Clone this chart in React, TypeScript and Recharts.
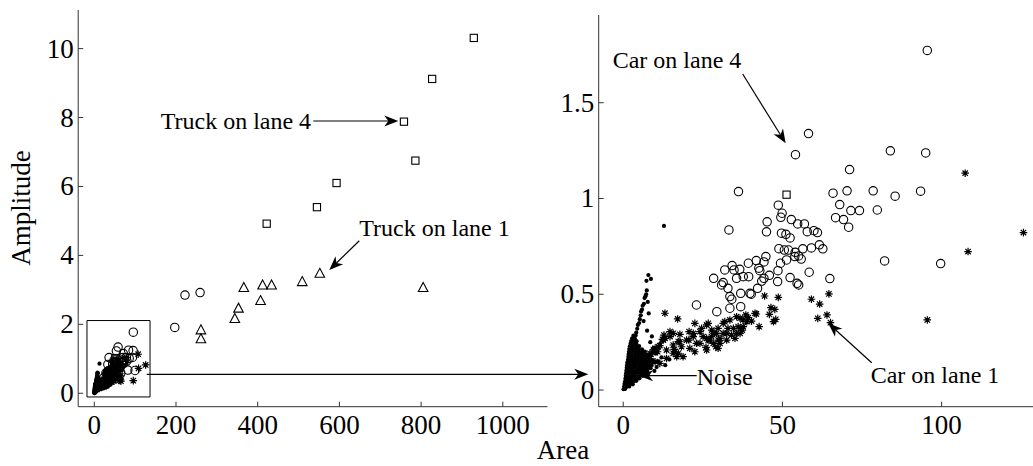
import { ScatterChart, Scatter, XAxis, YAxis, ReferenceArea } from "recharts";

const FONT = '"Liberation Serif", "Times New Roman", Times, serif';
const INK = "#000";
const AXIS = "#333";

type Pt = [number, number];

// Truck on lane 4 (squares)
const truckLane4: Pt[] = [
  [929, 10.31], [827, 9.12], [758, 7.88], [786, 6.75], [593, 6.1], [545, 5.4], [422, 4.92], [51.3, 1.02],
];

// Truck on lane 1 (triangles)
const truckLane1: Pt[] = [
  [552, 3.48], [509, 3.24], [434, 3.14], [412, 3.14], [366, 3.07], [407, 2.69], [353, 2.47],
  [344, 2.17], [261, 1.84], [261, 1.58], [805, 3.07],
];

// Car on lane 4 (circles)
const carLane4: Pt[] = [
  [222, 2.85], [259, 2.92], [197, 1.91],
  [95.5, 1.773], [58.2, 1.339], [54.1, 1.229], [83.9, 1.249], [95.0, 1.238], [71.1, 1.151], [36.2, 1.036],
  [65.9, 1.028], [70.3, 1.04], [78.5, 1.04], [85.4, 1.012], [93.4, 1.038], [68.0, 0.968], [71.5, 0.937],
  [74.2, 0.937], [79.8, 0.94], [66.7, 0.9], [69.2, 0.89], [70.8, 0.85], [82.1, 0.674], [99.7, 0.66],
  [33.2, 0.836], [48.7, 0.965], [49.9, 0.923], [49.5, 0.902], [52.8, 0.89], [45.2, 0.878], [45.0, 0.826],
  [54.8, 0.867], [56.9, 0.867], [57.8, 0.827], [59.9, 0.832], [61.0, 0.822], [49.7, 0.819], [51.1, 0.813],
  [52.4, 0.794], [61.6, 0.758], [62.7, 0.737], [59.1, 0.742], [56.4, 0.737], [48.9, 0.738], [50.6, 0.731],
  [51.9, 0.731], [54.0, 0.719], [55.1, 0.7], [55.9, 0.684], [53.9, 0.697], [58.4, 0.615], [52.4, 0.587],
  [55.1, 0.549], [54.6, 0.557], [64.9, 0.582], [51.3, 0.679], [49.4, 0.662], [48.6, 0.623], [48.5, 0.566],
  [44.8, 0.697], [44.2, 0.669], [41.8, 0.676], [39.3, 0.662], [42.6, 0.636], [42.9, 0.623], [45.9, 0.599],
  [44.2, 0.583], [43.5, 0.569], [39.4, 0.592], [42.2, 0.531], [40.2, 0.5], [39.8, 0.505], [34.2, 0.65],
  [31.9, 0.627], [34.8, 0.627], [36.6, 0.63], [37.7, 0.592], [28.4, 0.583], [31.4, 0.561], [30.9, 0.549],
  [32.9, 0.531], [35.6, 0.583], [33.5, 0.488], [34.1, 0.474], [36.9, 0.505], [23.0, 0.444], [29.4, 0.409],
  [33.5, 0.427], [36.9, 0.435],
];

// Car on lane 1 (asterisks)
const carLane1: Pt[] = [
  [107.4, 1.132], [125.7, 0.822], [108.3, 0.723], [95.5, 0.366], [64.6, 0.502], [59.1, 0.474], [61.7, 0.449],
  [61.1, 0.374], [64.0, 0.392], [65.1, 0.352], [48.7, 0.484], [44.4, 0.491], [46.4, 0.43], [47.6, 0.421],
  [45.9, 0.395], [47.9, 0.369], [47.2, 0.357], [42.7, 0.331], [41.8, 0.397], [39.3, 0.378], [37.6, 0.366],
  [35.6, 0.383], [36.9, 0.322], [35.6, 0.296], [37.4, 0.313], [33.5, 0.366], [31.4, 0.348], [29.8, 0.322],
  [29.3, 0.296], [27.7, 0.279], [26.2, 0.34], [25.1, 0.279], [22.5, 0.348], [22.0, 0.296], [20.7, 0.305],
  [20.6, 0.261], [17.8, 0.291], [17.3, 0.253], [16.0, 0.212], [15.7, 0.192], [13.1, 0.401], [17.1, 0.371],
  [12.8, 0.287], [12.3, 0.265], [11.5, 0.232], [10.8, 0.2], [9.5, 0.209], [29.1, 0.226], [26.0, 0.223],
  [24.1, 0.244], [20.9, 0.218], [30.4, 0.244], [32.5, 0.296], [32.9, 0.322], [34.6, 0.322], [34.0, 0.287],
  [38.5, 0.392], [40.3, 0.36], [28.5, 0.296], [26.7, 0.261], [14.7, 0.305], [13.6, 0.209], [8.4, 0.174],
  [7.3, 0.139], [6.3, 0.122], [26.7, 0.348], [24.1, 0.305], [27.8, 0.313], [31.9, 0.357], [36.7, 0.375],
  [41.4, 0.4], [37.7, 0.331], [36.7, 0.296], [30.4, 0.27], [27.2, 0.261], [17.8, 0.252], [15.7, 0.296],
  [13.1, 0.27], [16.2, 0.2], [16.8, 0.174], [29.8, 0.218], [26.2, 0.209], [10.0, 0.218], [8.4, 0.192],
  [7.3, 0.174], [9.4, 0.2], [11.0, 0.226], [12.6, 0.261], [14.7, 0.279], [15.7, 0.235], [17.3, 0.192],
  [18.3, 0.226], [19.9, 0.261], [22.0, 0.279], [23.0, 0.244], [24.6, 0.322], [26.2, 0.27], [28.3, 0.244],
  [31.4, 0.296], [32.5, 0.261], [35.1, 0.27], [36.1, 0.331], [38.8, 0.357], [13.6, 0.165], [11.5, 0.139],
  [18.8, 0.174], [22.5, 0.2], [29.8, 0.261], [10.0, 0.148],
];

// Noise (dots)
const noise: Pt[] = [
  [0.1, 0.004], [0.6, 0.006],
  [0.3, 0.018], [1.1, 0.017], [1.9, 0.019],
  [0.4, 0.032], [1.3, 0.031], [2.2, 0.033], [3.0, 0.03],
  [0.6, 0.046], [1.5, 0.045], [2.4, 0.047], [3.3, 0.044], [4.1, 0.048],
  [0.7, 0.06], [1.6, 0.061], [2.5, 0.059], [3.4, 0.062], [4.3, 0.058], [5.1, 0.061],
  [0.8, 0.074], [1.7, 0.075], [2.6, 0.073], [3.6, 0.076], [4.5, 0.072], [5.4, 0.075], [6.2, 0.074],
  [0.9, 0.088], [1.8, 0.087], [2.8, 0.089], [3.7, 0.086], [4.7, 0.09], [5.6, 0.087], [6.5, 0.089], [7.2, 0.086],
  [1.0, 0.102], [2.0, 0.101], [2.9, 0.103], [3.9, 0.1], [4.8, 0.104], [5.8, 0.101], [6.7, 0.103], [7.6, 0.1],
  [1.1, 0.116], [2.1, 0.117], [3.0, 0.115], [4.0, 0.118], [5.0, 0.114], [5.9, 0.117], [6.9, 0.115], [7.9, 0.118], [8.6, 0.114],
  [1.2, 0.13], [2.2, 0.131], [3.2, 0.129], [4.1, 0.132], [5.1, 0.128], [6.1, 0.131], [7.0, 0.129], [8.0, 0.132], [8.9, 0.128],
  [1.3, 0.144], [2.3, 0.145], [3.3, 0.143], [4.3, 0.146], [5.2, 0.142], [6.2, 0.145], [7.2, 0.143], [8.2, 0.146], [9.1, 0.142],
  [1.5, 0.158], [2.5, 0.159], [3.4, 0.157], [4.4, 0.16], [5.4, 0.156], [6.4, 0.159], [7.3, 0.157], [8.3, 0.16], [9.3, 0.156],
  [1.6, 0.172], [2.6, 0.173], [3.6, 0.171], [4.5, 0.174], [5.5, 0.17], [6.5, 0.173], [7.5, 0.171], [8.4, 0.174],
  [1.7, 0.186], [2.7, 0.187], [3.7, 0.185], [4.7, 0.188], [5.6, 0.184], [6.6, 0.187], [7.6, 0.185],
  [1.8, 0.2], [2.8, 0.201], [3.8, 0.199], [4.8, 0.202], [5.8, 0.198], [6.8, 0.201],
  [1.9, 0.214], [2.9, 0.215], [3.9, 0.213], [4.9, 0.216], [5.9, 0.212],
  [2.1, 0.228], [3.0, 0.229], [4.0, 0.227], [5.0, 0.23],
  [2.3, 0.242], [3.2, 0.243], [4.1, 0.241],
  [2.5, 0.256], [3.4, 0.257], [4.2, 0.255],
  [2.8, 0.27], [3.6, 0.271],
  [3.2, 0.284], [3.9, 0.285],
  [4.1, 0.3], [4.4, 0.32], [4.6, 0.34], [5.0, 0.35], [5.2, 0.37], [5.5, 0.39], [5.6, 0.41], [5.9, 0.42],
  [6.1, 0.44], [6.5, 0.45], [6.7, 0.48], [7.0, 0.49], [7.2, 0.5], [7.4, 0.52], [7.3, 0.57], [7.9, 0.6],
  [8.7, 0.58], [7.7, 0.46], [8.0, 0.4], [6.4, 0.36], [12.8, 0.857],
  [9.5, 0.22], [10.2, 0.19], [11.0, 0.15], [10.5, 0.12], [12.0, 0.17], [9.8, 0.1], [13.2, 0.13],
  [14.5, 0.16], [8.5, 0.25], [9.0, 0.28], [7.5, 0.31], [11.5, 0.24],
];

const leftXTicks = [0, 200, 400, 600, 800, 1000];
const leftYTicks = [0, 2, 4, 6, 8, 10];
const rightXTicks = [0, 50, 100];
const rightYTicks = [0, 0.5, 1, 1.5];

const toPoints = (rows: Pt[]) => rows.map(([x, y]) => ({ x, y }));
const squares = toPoints(truckLane4);
const triangles = toPoints(truckLane1);
const circles = toPoints(carLane4);
const stars = toPoints(carLane1);
const dots = toPoints(noise);

function CircleMark({ cx, cy }: any) {
  return <circle cx={cx} cy={cy} r={4.2} fill="none" stroke={INK} strokeWidth={1.1} />;
}
function SquareMark({ cx, cy }: any) {
  return <rect x={cx - 3.6} y={cy - 3.6} width={7.2} height={7.2} fill="none" stroke={INK} strokeWidth={1.1} />;
}
function TriangleMark({ cx, cy }: any) {
  return (
    <polygon
      points={`${cx},${cy - 5} ${cx + 4.8},${cy + 4} ${cx - 4.8},${cy + 4}`}
      fill="none"
      stroke={INK}
      strokeWidth={1.1}
    />
  );
}
function StarMark({ cx, cy }: any) {
  const r = 3.8;
  const d = 2.7;
  return (
    <path
      d={`M${cx - r},${cy}H${cx + r}M${cx},${cy - r}V${cy + r}M${cx - d},${cy - d}L${cx + d},${cy + d}M${cx - d},${cy + d}L${cx + d},${cy - d}`}
      stroke={INK}
      strokeWidth={1.2}
      fill="none"
    />
  );
}
function DotMark({ cx, cy }: any) {
  return <circle cx={cx} cy={cy} r={2.1} fill={INK} />;
}

function XTick({ x, y, payload }: any) {
  return (
    <g>
      <line x1={x} x2={x} y1={y} y2={y - 5} stroke={AXIS} />
      <text x={x} y={y + 27} textAnchor="middle" fontFamily={FONT} fontSize={27} fill={INK}>
        {String(payload.value)}
      </text>
    </g>
  );
}
function YTick({ x, y, payload }: any) {
  return (
    <g>
      <line x1={x} x2={x + 5} y1={y} y2={y} stroke={AXIS} />
      <text x={x - 4.5} y={y + 9} textAnchor="end" fontFamily={FONT} fontSize={27} fill={INK}>
        {String(payload.value)}
      </text>
    </g>
  );
}

function Series() {
  return [
    <Scatter key="n" data={dots} shape={DotMark} isAnimationActive={false} />,
    <Scatter key="s" data={stars} shape={StarMark} isAnimationActive={false} />,
    <Scatter key="c" data={circles} shape={CircleMark} isAnimationActive={false} />,
    <Scatter key="t" data={triangles} shape={TriangleMark} isAnimationActive={false} />,
    <Scatter key="q" data={squares} shape={SquareMark} isAnimationActive={false} />,
  ];
}

function Arrow({ x1, y1, x2, y2 }: { x1: number; y1: number; x2: number; y2: number }) {
  const len = Math.hypot(x2 - x1, y2 - y1);
  const ux = (x2 - x1) / len;
  const uy = (y2 - y1) / len;
  const nx = -uy;
  const ny = ux;
  const L = 14;
  const W = 5.5;
  const bx = x2 - L * ux;
  const by = y2 - L * uy;
  const mx = x2 - (L - 4) * ux;
  const my = y2 - (L - 4) * uy;
  return (
    <g>
      <line x1={x1} y1={y1} x2={mx} y2={my} stroke={INK} strokeWidth={1.2} />
      <polygon
        points={`${x2},${y2} ${bx + W * nx},${by + W * ny} ${mx},${my} ${bx - W * nx},${by - W * ny}`}
        fill={INK}
      />
    </g>
  );
}

export default function App() {
  const ann = { fontFamily: FONT, fontSize: 24, fill: INK };
  return (
    <div style={{ position: "absolute", left: 0, top: 0, width: 1033, height: 466, background: "#fff" }}>
      <div style={{ position: "absolute", left: 0, top: 0 }}>
        <ScatterChart width={560} height={466} margin={{ top: 10, right: 12.5, bottom: 0, left: 0 }}>
          <XAxis
            type="number"
            dataKey="x"
            domain={[-39.4, 1109.4]}
            allowDataOverflow
            ticks={leftXTicks}
            interval={0}
            tickSize={0}
            tickMargin={0}
            height={59.3}
            axisLine={{ stroke: AXIS }}
            tickLine={false}
            tick={XTick}
          />
          <YAxis
            type="number"
            dataKey="y"
            domain={[-0.39, 11.12]}
            allowDataOverflow
            ticks={leftYTicks}
            interval={0}
            tickSize={0}
            tickMargin={0}
            width={78.2}
            axisLine={{ stroke: AXIS }}
            tickLine={false}
            tick={YTick}
          />
          <ReferenceArea x1={-17.9} x2={136.4} y1={-0.107} y2={2.11} fill="none" stroke={INK} strokeWidth={1} />
          {Series()}
        </ScatterChart>
      </div>
      <div style={{ position: "absolute", left: 540, top: 0 }}>
        <ScatterChart width={493} height={466} margin={{ top: 15, right: 0, bottom: 0, left: 0 }}>
          <XAxis
            type="number"
            dataKey="x"
            domain={[-7.7, 128.7]}
            allowDataOverflow
            ticks={rightXTicks}
            interval={0}
            tickSize={0}
            tickMargin={0}
            height={59.3}
            axisLine={{ stroke: AXIS }}
            tickLine={false}
            tick={XTick}
          />
          <YAxis
            type="number"
            dataKey="y"
            domain={[-0.087, 1.958]}
            allowDataOverflow
            ticks={rightYTicks}
            interval={0}
            tickSize={0}
            tickMargin={0}
            width={58.7}
            axisLine={{ stroke: AXIS }}
            tickLine={false}
            tick={YTick}
          />
          {Series()}
        </ScatterChart>
      </div>
      <svg
        width={1033}
        height={466}
        style={{ position: "absolute", left: 0, top: 0, pointerEvents: "none" }}
      >
        <text x={30.3} y={208} transform="rotate(-90 30.3 208)" textAnchor="middle" fontFamily={FONT} fontSize={27} fill={INK}>
          Amplitude
        </text>
        <text x={563} y={459} textAnchor="middle" fontFamily={FONT} fontSize={27} fill={INK}>
          Area
        </text>
        <text x={160.7} y={129} {...ann}>Truck on lane 4</text>
        <Arrow x1={313.3} y1={121} x2={398.3} y2={121} />
        <text x={359.3} y={236} {...ann}>Truck on lane 1</text>
        <Arrow x1={359.3} y1={240.7} x2={329.3} y2={270} />
        <text x={612.7} y={68} {...ann}>Car on lane 4</text>
        <Arrow x1={742.7} y1={74} x2={785.7} y2={143.3} />
        <text x={696.7} y={385} {...ann}>Noise</text>
        <Arrow x1={696.7} y1={375.7} x2={639} y2={375.7} />
        <text x={870.7} y={383} {...ann}>Car on lane 1</text>
        <Arrow x1={871.7} y1={362.7} x2={828.3} y2={323.3} />
        <Arrow x1={146.7} y1={374.3} x2={588.3} y2={374.3} />
      </svg>
    </div>
  );
}
